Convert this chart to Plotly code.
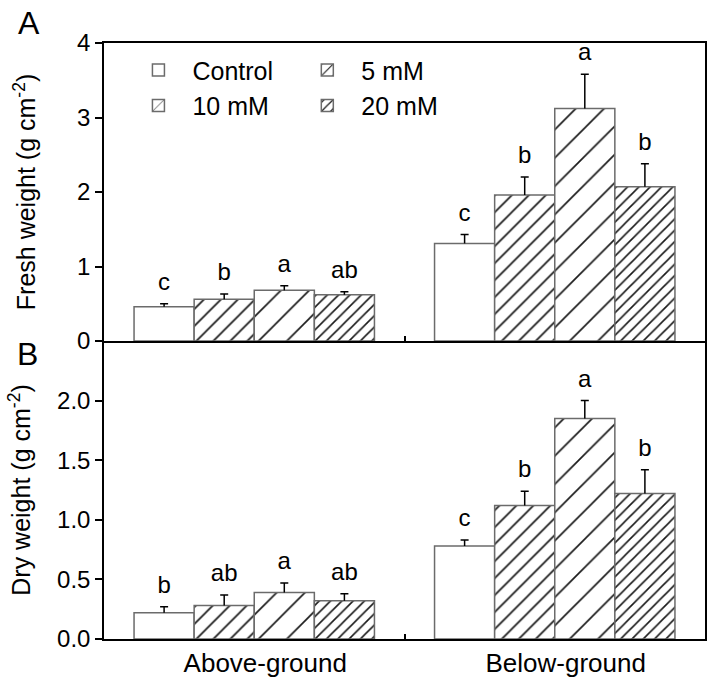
import plotly.graph_objects as go

categories = ["Above-ground", "Below-ground"]
treatments = ["Control", "5 mM", "10 mM", "20 mM"]

fresh_mean = {
    "Control": [0.46, 1.31],
    "5 mM": [0.56, 1.96],
    "10 mM": [0.68, 3.12],
    "20 mM": [0.62, 2.07],
}
fresh_err = {
    "Control": [0.04, 0.12],
    "5 mM": [0.07, 0.24],
    "10 mM": [0.06, 0.46],
    "20 mM": [0.04, 0.31],
}
fresh_letters = {
    "Control": ["c", "c"],
    "5 mM": ["b", "b"],
    "10 mM": ["a", "a"],
    "20 mM": ["ab", "b"],
}

dry_mean = {
    "Control": [0.22, 0.78],
    "5 mM": [0.28, 1.12],
    "10 mM": [0.39, 1.85],
    "20 mM": [0.32, 1.22],
}
dry_err = {
    "Control": [0.05, 0.05],
    "5 mM": [0.09, 0.12],
    "10 mM": [0.08, 0.15],
    "20 mM": [0.06, 0.20],
}
dry_letters = {
    "Control": ["b", "c"],
    "5 mM": ["ab", "b"],
    "10 mM": ["a", "a"],
    "20 mM": ["ab", "b"],
}

y_ticks_fresh = [0, 1, 2, 3, 4]
y_ticks_dry = [0.0, 0.5, 1.0, 1.5, 2.0]

FONT = "Arial, Liberation Sans, sans-serif"
patterns = {
    "Control": dict(shape=""),
    "5 mM": dict(shape="/", size=12, solidity=0.14, fgcolor="#1a1a1a", bgcolor="white"),
    "10 mM": dict(shape="/", size=20, solidity=0.085, fgcolor="#1a1a1a", bgcolor="white"),
    "20 mM": dict(shape="/", size=8, solidity=0.2, fgcolor="#1a1a1a", bgcolor="white"),
}
legend_of = {"Control": "legend", "10 mM": "legend", "5 mM": "legend2", "20 mM": "legend2"}

fig = go.Figure()

panels = [
    ("x", "y", fresh_mean, fresh_err, fresh_letters, True),
    ("x2", "y2", dry_mean, dry_err, dry_letters, False),
]
for xa, ya, means, errs, letters, show in panels:
    for i, t in enumerate(treatments):
        fig.add_trace(go.Bar(
            x=categories, y=means[t], name=t,
            xaxis=xa, yaxis=ya,
            offsetgroup=str(i),
            marker=dict(color="white", line=dict(color="#6b6b6b", width=1.5),
                        pattern=patterns[t]),
            error_y=dict(type="data", array=errs[t], arrayminus=[0] * len(errs[t]),
                         symmetric=False, color="black", thickness=1.5, width=0),
            showlegend=show, legend=legend_of[t],
            hoverinfo="skip",
        ))
    for i, t in enumerate(treatments):
        tops = [m + e for m, e in zip(means[t], errs[t])]
        fig.add_trace(go.Scatter(
            x=categories, y=tops, text=letters[t], mode="markers+text",
            textposition="top center",
            textfont=dict(family=FONT, size=24, color="black"),
            marker=dict(size=11, opacity=0),
            error_y=dict(type="data", array=[0] * len(tops), arrayminus=[0] * len(tops),
                         symmetric=False, color="black", thickness=1.5, width=4),
            xaxis=xa, yaxis=ya, offsetgroup=str(i),
            showlegend=False, hoverinfo="skip",
        ))

axis_common = dict(showline=True, linecolor="black", linewidth=1.5,
                   showgrid=False, zeroline=False, automargin=False,
                   tickfont=dict(family=FONT, size=24, color="black"))

fig.update_layout(
    template="none",
    width=712, height=683,
    margin=dict(l=104, r=7, t=43, b=44),
    plot_bgcolor="white", paper_bgcolor="white",
    barmode="group", bargap=0.2, bargroupgap=0,
    scattermode="group", scattergap=0.2,
    font=dict(family=FONT, size=24, color="black"),
    xaxis=dict(domain=[0, 1], anchor="y", type="category", tickson="boundaries",
               ticks="inside", ticklen=5, tickwidth=1.5, tickcolor="black",
               showticklabels=False, range=[-0.5, 1.5], mirror=True, **axis_common),
    xaxis2=dict(domain=[0, 1], anchor="y2", type="category", tickson="boundaries",
                ticks="inside", ticklen=5, tickwidth=1.5, tickcolor="black",
                range=[-0.5, 1.5], mirror=False, ticklabelshift=11,
                **{**axis_common, "tickfont": dict(family=FONT, size=26, color="black")}),
    yaxis=dict(domain=[0.5, 1], anchor="x", range=[0, 4], tickvals=y_ticks_fresh,
               ticks="outside", ticklen=7, tickwidth=1.5, tickcolor="black", mirror=True,
               title=dict(text="Fresh weight (g cm<sup>-2</sup>)", standoff=34,
                          font=dict(family=FONT, size=25, color="black")),
               **axis_common),
    yaxis2=dict(domain=[0, 0.5], anchor="x2", range=[0, 2.5], tickvals=y_ticks_dry,
                tickformat=".1f", mirror=True,
                ticks="outside", ticklen=7, tickwidth=1.5, tickcolor="black",
                title=dict(text="Dry weight (g cm<sup>-2</sup>)", standoff=19,
                           font=dict(family=FONT, size=25, color="black")),
                **axis_common),
    legend=dict(x=0.034, y=0.993, xanchor="left", yanchor="top", orientation="v",
                itemwidth=58, bgcolor="rgba(0,0,0,0)",
                font=dict(family=FONT, size=25, color="black"), traceorder="normal"),
    legend2=dict(x=0.315, y=0.993, xanchor="left", yanchor="top", orientation="v",
                 itemwidth=58, bgcolor="rgba(0,0,0,0)",
                 font=dict(family=FONT, size=25, color="black"), traceorder="normal"),
    annotations=[
        dict(text="A", xref="paper", yref="paper", x=-0.125, y=1.034,
             xanchor="center", yanchor="middle", showarrow=False,
             font=dict(family=FONT, size=32, color="black")),
        dict(text="B", xref="paper", yref="paper", x=-0.128, y=0.478,
             xanchor="center", yanchor="middle", showarrow=False,
             font=dict(family=FONT, size=32, color="black")),
    ],
)

fig.write_html("out.html", config={"displayModeBar": False},
               post_script="document.body.style.margin='0px';")
